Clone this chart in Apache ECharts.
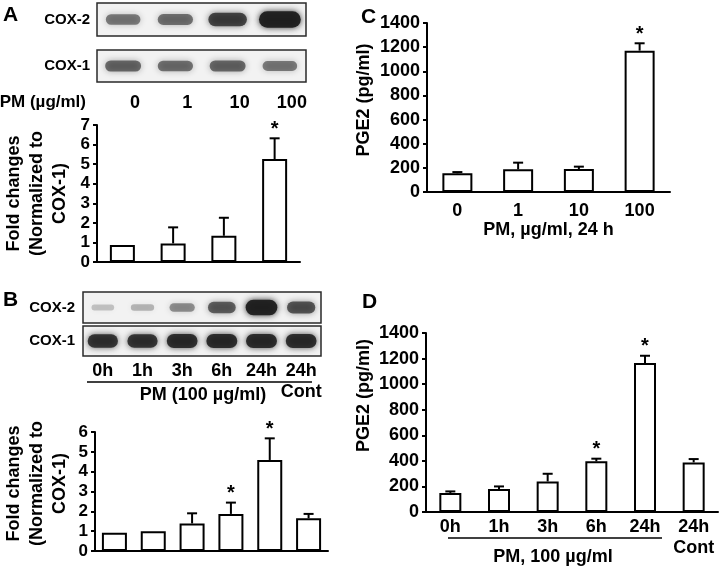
<!DOCTYPE html>
<html><head><meta charset="utf-8">
<script src="https://cdn.jsdelivr.net/npm/echarts@6/dist/echarts.min.js"></script>
<style>html,body{margin:0;padding:0;background:#fff}#c{width:720px;height:568px}</style>
</head><body><div id="c"></div>
<script>
const FONT = '"Liberation Sans", Arial, Helvetica, sans-serif';

// ---- Panel A ----
const lanesA = ['0', '1', '10', '100'];
const cox2BandA = [0.45, 0.5, 0.75, 1.0];
const cox1BandA = [0.55, 0.5, 0.55, 0.45];
const foldA = [0.87, 0.95, 1.34, 5.26];
const foldErrA = [0, 0.82, 0.92, 1.06];
const foldSigA = [0, 0, 0, 1];
const ticksA = [0, 1, 2, 3, 4, 5, 6, 7];

// ---- Panel B ----
const lanesB = ['0h', '1h', '3h', '6h', '24h', '24h\nCont'];
const cox2BandB = [0.08, 0.15, 0.35, 0.6, 1.0, 0.65];
const cox1BandB = [0.85, 0.85, 0.9, 0.92, 0.92, 0.9];
const foldB = [0.92, 1.0, 1.39, 1.87, 4.59, 1.65];
const foldErrB = [0, 0, 0.51, 0.57, 1.09, 0.22];
const foldSigB = [0, 0, 0, 1, 1, 0];
const ticksB = [0, 1, 2, 3, 4, 5, 6];

// ---- Panel C ----
const dosesC = ['0', '1', '10', '100'];
const pgeC = [155, 188, 190, 1171];
const pgeErrC = [10, 55, 20, 61];
const pgeSigC = [0, 0, 0, 1];
const ticksC = [0, 200, 400, 600, 800, 1000, 1200, 1400];

// ---- Panel D ----
const timesD = ['0h', '1h', '3h', '6h', '24h', '24h\nCont'];
const pgeD = [149, 180, 239, 396, 1165, 388];
const pgeErrD = [12, 20, 60, 21, 57, 26];
const pgeSigD = [0, 0, 0, 1, 1, 0];
const ticksD = [0, 200, 400, 600, 800, 1000, 1200, 1400];

const chart = echarts.init(document.getElementById('c'), null, {renderer: 'canvas'});

const txt = (size) => ({fontFamily: FONT, fontWeight: 'bold', fontSize: size, color: '#000'});

function bandRender(params, api) {
  const lane = api.value(0), k = api.value(1);
  const c = api.coord([lane, 0.5]);
  const lw = api.size([1, 0])[0];
  const gh = params.coordSys.height;
  const w = lw * (0.55 + 0.25 * k), h = gh * (0.16 + 0.34 * k);
  const a = (0.15 + 0.8 * k).toFixed(3);
  const col = 'rgba(30,30,30,' + a + ')';
  return {
    type: 'rect',
    shape: {x: c[0] - w / 2, y: c[1] - h / 2, width: w, height: h, r: h / 2},
    style: {fill: col, shadowBlur: 6, shadowColor: col}
  };
}

function errRender(params, api) {
  const x = api.value(0), v = api.value(1), e = api.value(2), s = api.value(3);
  const p0 = api.coord([x, v]);
  const p1 = api.coord([x, v + e]);
  const children = [];
  if (e > 0) {
    children.push({type: 'line', shape: {x1: p0[0], y1: p0[1], x2: p1[0], y2: p1[1]}, style: {stroke: '#000', lineWidth: 2}});
    children.push({type: 'line', shape: {x1: p1[0] - 5, y1: p1[1], x2: p1[0] + 5, y2: p1[1]}, style: {stroke: '#000', lineWidth: 2}});
  }
  if (s) {
    children.push({type: 'text', x: p1[0], y: p1[1] - 9,
      style: {text: '*', font: 'bold 20px ' + FONT, fill: '#000', align: 'center', verticalAlign: 'middle'}});
  }
  return {type: 'group', children};
}

function blotGrid(left, top, width, height) {
  return {left, top, width, height, show: true, borderColor: '#2a2a2a', borderWidth: 1.5,
    backgroundColor: '#f2f2f2', outerBoundsMode: 'none', containLabel: false};
}
function plotGrid(left, top, width, height) {
  return {left, top, width, height, show: false, outerBoundsMode: 'none', containLabel: false};
}

function blotY(idx, name, gap) {
  return {type: 'value', gridIndex: idx, min: 0, max: 1, show: true,
    axisLine: {show: false}, axisTick: {show: false}, axisLabel: {show: false}, splitLine: {show: false},
    name, nameLocation: 'middle', nameRotate: 0, nameGap: gap, nameMoveOverlap: false,
    nameTextStyle: Object.assign(txt(15), {align: 'right', verticalAlign: 'middle'})};
}
function blotX(idx, data, showLabels, margin, pad) {
  return {type: 'category', gridIndex: idx, data, show: true,
    axisLine: {show: false}, axisTick: {show: false}, splitLine: {show: false},
    axisLabel: showLabels ? Object.assign(txt(18), {interval: 0, margin, lineHeight: 21, padding: pad}) : {show: false}};
}
function plotX(idx, data, showLabels, margin) {
  return {type: 'category', gridIndex: idx, data,
    axisLine: {show: true, lineStyle: {color: '#000', width: 2}},
    axisTick: {show: false}, splitLine: {show: false},
    axisLabel: showLabels ? Object.assign(txt(18), {interval: 0, margin, lineHeight: 21}) : {show: false}};
}
function plotY(idx, ticks, labelSize, name, gap, shift, lh) {
  return {type: 'value', gridIndex: idx, min: ticks[0], max: ticks[ticks.length - 1],
    interval: ticks[1] - ticks[0],
    axisLine: {show: true, lineStyle: {color: '#000', width: 2}},
    axisTick: {show: true, length: 4, lineStyle: {color: '#000', width: 2}},
    splitLine: {show: false},
    axisLabel: Object.assign(txt(labelSize), {margin: 7, formatter: (v) => String(v)}),
    name, nameLocation: 'middle', nameGap: gap, nameRotate: 90, nameMoveOverlap: false,
    nameTextStyle: Object.assign(txt(18), {lineHeight: lh, padding: [0, 0, 0, shift]})};
}

function bars(idx, data, w) {
  return {type: 'bar', xAxisIndex: idx, yAxisIndex: idx, data, barWidth: w, silent: true,
    itemStyle: {color: '#fff', borderColor: '#000', borderWidth: 2}};
}
function errs(idx, vals, errsArr, sig) {
  return {type: 'custom', xAxisIndex: idx, yAxisIndex: idx, renderItem: errRender, clip: false, silent: true,
    data: vals.map((v, i) => [i, v, errsArr[i], sig[i]]), z: 5};
}
function bands(idx, vals) {
  return {type: 'custom', xAxisIndex: idx, yAxisIndex: idx, renderItem: bandRender, clip: true, silent: true,
    data: vals.map((v, i) => [i, v])};
}

const option = {
  animation: false,
  backgroundColor: '#fff',
  textStyle: {fontFamily: FONT},
  grid: [
    blotGrid(97, 3, 209, 33),      // 0 A COX-2
    blotGrid(97, 50, 209, 32),     // 1 A COX-1
    plotGrid(97, 125, 203, 137),   // 2 A bars
    blotGrid(83, 292, 238, 31),    // 3 B COX-2
    blotGrid(83, 326, 238, 30),    // 4 B COX-1
    plotGrid(95, 432, 233, 119),   // 5 B bars
    plotGrid(427, 23, 243, 169),   // 6 C
    plotGrid(426, 333, 292, 179)   // 7 D
  ],
  xAxis: [
    blotX(0, lanesA, false),
    blotX(1, lanesA, true, 11, [0, 0, 0, 24]),
    plotX(2, lanesA, false),
    blotX(3, lanesB, false),
    blotX(4, lanesB, true, 5, 0),
    plotX(5, lanesB, false),
    Object.assign(plotX(6, dosesC, true, 9), {
      name: 'PM, µg/ml, 24 h', nameLocation: 'middle', nameGap: 29, nameMoveOverlap: false,
      nameTextStyle: txt(18)}),
    plotX(7, timesD, true, 5)
  ],
  yAxis: [
    blotY(0, 'COX-2', 7),
    blotY(1, 'COX-1', 7),
    plotY(2, ticksA, 17, 'Fold changes\n(Normalized to\nCOX-1)', 25, 0, 23),
    blotY(3, 'COX-2', 8),
    blotY(4, 'COX-1', 8),
    plotY(5, ticksB, 17, 'Fold changes\n(Normalized to\nCOX-1)', 23, 16, 23),
    plotY(6, ticksC, 18, 'PGE2 (pg/ml)', 53, 15, 20),
    plotY(7, ticksD, 18, 'PGE2 (pg/ml)', 52, 54, 20)
  ],
  series: [
    bands(0, cox2BandA), bands(1, cox1BandA),
    bars(2, foldA, 25), errs(2, foldA, foldErrA, foldSigA),
    bands(3, cox2BandB), bands(4, cox1BandB),
    bars(5, foldB, 25), errs(5, foldB, foldErrB, foldSigB),
    bars(6, pgeC, 30), errs(6, pgeC, pgeErrC, pgeSigC),
    bars(7, pgeD, 22), errs(7, pgeD, pgeErrD, pgeSigD)
  ],
  graphic: [
    {type: 'text', left: 3, top: 5, style: {text: 'A', font: 'bold 21px ' + FONT, fill: '#000'}},
    {type: 'text', left: 3, top: 290, style: {text: 'B', font: 'bold 21px ' + FONT, fill: '#000'}},
    {type: 'text', left: 361, top: 7, style: {text: 'C', font: 'bold 21px ' + FONT, fill: '#000'}},
    {type: 'text', left: 362, top: 292, style: {text: 'D', font: 'bold 21px ' + FONT, fill: '#000'}},
    {type: 'text', x: 86, y: 102, style: {text: 'PM (µg/ml)', font: 'bold 17px ' + FONT, fill: '#000', align: 'right', verticalAlign: 'middle'}},
    {type: 'line', shape: {x1: 87, y1: 382, x2: 312, y2: 382}, style: {stroke: '#000', lineWidth: 1.5}},
    {type: 'text', x: 203, y: 395, style: {text: 'PM (100 µg/ml)', font: 'bold 18px ' + FONT, fill: '#000', align: 'center', verticalAlign: 'middle'}},
    {type: 'line', shape: {x1: 448, y1: 538, x2: 662, y2: 538}, style: {stroke: '#000', lineWidth: 1.5}},
    {type: 'text', x: 553, y: 557, style: {text: 'PM, 100 µg/ml', font: 'bold 18px ' + FONT, fill: '#000', align: 'center', verticalAlign: 'middle'}}
  ]
};
chart.setOption(option);
</script>
</body></html>
